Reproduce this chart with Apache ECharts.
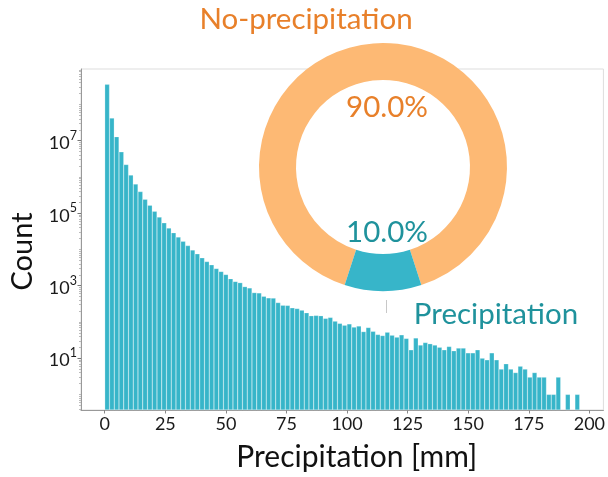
<!DOCTYPE html>
<html><head><meta charset="utf-8">
<script src="https://cdn.jsdelivr.net/npm/echarts@6/dist/echarts.min.js"></script>
<style>html,body{margin:0;padding:0;background:#fff}#c{width:608px;height:477px}</style>
</head><body><div id="c"></div>
<script>
// ---- data ----
const binStart = 0;
const binWidth = 1.96;
const counts = [
  357000000, 41900000, 12900000, 4900000, 2200000, 1120000, 635000, 394000, 242000, 166000,
  113000, 77700, 54200, 38800, 28900, 22000, 16800, 12700, 9680, 7530,
  5850, 4630, 3760, 2980, 2470, 2040, 1560, 1310, 1210, 940,
  865, 643, 630, 509, 460, 455, 342, 288, 285, 245,
  234, 211, 179, 148, 151, 148, 125, 133, 105, 91,
  81, 88, 72, 77, 54, 70, 55, 45, 42, 52,
  43, 38, 44, 35, 17, 36, 23, 27, 25, 23,
  20, 17, 21, 16, 19, 19, 14, 14, 17, 10,
  9, 14, 9, 5, 7, 5, 4, 6, 5, 3,
  4, 3, 3, 1, 1, 3, null, 1, null, 1
];
const xTicks = [0, 25, 50, 75, 100, 125, 150, 175, 200];
const yTicks = [1e1, 1e3, 1e5, 1e7];
const pieNames = ['No-precipitation', 'Precipitation'];
const pieValues = [90, 10];

// ---- styles ----
const FONT = 'Lato';
const BAR = '#37b5c9';
const RING = '#fdb974';
const ORANGE_TXT = '#e8802a';
const TEAL_TXT = '#1f929c';
const yMin = 0.372, yMax = 9.5e8;
const xMin = -9.8, xMax = 205.8;

const minorTicks = [];
for (let n = -1; n <= 9; n++) {
  for (let m = 1; m <= 9; m++) {
    const v = m * Math.pow(10, n);
    if (m === 1 && Math.abs(n % 2) === 1) continue;
    if (v >= yMin && v <= yMax) minorTicks.push(v);
  }
}

const barData = counts.map((c, k) => [binStart + (k + 0.5) * binWidth, c == null ? '-' : c]);
const total = pieValues.reduce((a, b) => a + b, 0);
const pct = pieValues.map(v => (v / total * 100).toFixed(1) + '%');

const chart = echarts.init(document.getElementById('c'), null, {renderer: 'canvas'});
chart.setOption({
  animation: false,
  backgroundColor: '#fff',
  textStyle: {fontFamily: FONT},
  grid: {left: 80, right: 3, top: 69, bottom: 66, show: true, borderColor: '#dddddd', borderWidth: 1, containLabel: false},
  xAxis: {
    type: 'value', min: xMin, max: xMax,
    axisLine: {show: true, onZero: false, lineStyle: {color: '#999', width: 1}},
    axisTick: {show: true, length: 3.5, lineStyle: {color: '#888'}, customValues: xTicks},
    axisLabel: {customValues: xTicks, fontSize: 18, color: '#1a1a1a', margin: 5, fontFamily: FONT},
    splitLine: {show: false},
    name: 'Precipitation [mm]', nameLocation: 'middle', nameGap: 32,
    nameTextStyle: {fontSize: 30, color: '#111', fontFamily: FONT, padding: [0, 0, 0, 29]}
  },
  yAxis: [{
    type: 'log', logBase: 10, min: yMin, max: yMax, startValue: yMin,
    axisLine: {show: true, onZero: false, lineStyle: {color: '#999', width: 1}},
    axisTick: {show: true, length: 3.5, lineStyle: {color: '#777'}, customValues: yTicks},
    axisLabel: {
      customValues: yTicks, margin: 4, fontFamily: FONT,
      formatter: v => '{b|10}{s|' + Math.round(Math.log10(v)) + '}',
      rich: {
        b: {fontSize: 18, color: '#1a1a1a', fontFamily: FONT, verticalAlign: 'bottom'},
        s: {fontSize: 12.5, color: '#1a1a1a', fontFamily: FONT, verticalAlign: 'bottom', padding: [0, 0, 10, 0]}
      }
    },
    splitLine: {show: false},
    name: 'Count', nameLocation: 'middle', nameGap: 44,
    nameTextStyle: {fontSize: 29, color: '#111', fontFamily: FONT, padding: [0, 24, 0, 0]}
  }, {
    type: 'log', logBase: 10, min: yMin, max: yMax, position: 'left',
    axisLine: {show: false, onZero: false},
    axisTick: {show: true, length: 2, lineStyle: {color: '#bbb'}, customValues: minorTicks},
    axisLabel: {show: false},
    splitLine: {show: false}
  }],
  series: [{
    type: 'bar', xAxisIndex: 0, yAxisIndex: 0,
    data: barData, barWidth: '100%',
    itemStyle: {color: BAR, borderColor: 'rgba(255,255,255,0.6)', borderWidth: 0.4},
    silent: true, z: 2
  }, {
    type: 'pie', center: [383, 167], radius: [87, 124], startAngle: 252, clockwise: true,
    data: pieNames.map((n, i) => ({name: n, value: pieValues[i]})),
    color: [RING, BAR], label: {show: false}, labelLine: {show: false},
    itemStyle: {borderWidth: 0}, silent: true, z: 5
  }],
  graphic: [
    {type: 'text', x: 306, y: 19, z: 10, style: {text: pieNames[0], fontSize: 29.5, fontFamily: FONT, fill: ORANGE_TXT, align: 'center', verticalAlign: 'middle'}},
    {type: 'text', x: 387, y: 107, z: 10, style: {text: pct[0], fontSize: 29.5, fontFamily: FONT, fill: ORANGE_TXT, align: 'center', verticalAlign: 'middle'}},
    {type: 'text', x: 387, y: 232, z: 10, style: {text: pct[1], fontSize: 29.5, fontFamily: FONT, fill: TEAL_TXT, align: 'center', verticalAlign: 'middle'}},
    {type: 'text', x: 496, y: 314, z: 10, style: {text: pieNames[1], fontSize: 29.5, fontFamily: FONT, fill: TEAL_TXT, align: 'center', verticalAlign: 'middle'}},
    {type: 'line', z: 10, shape: {x1: 386.5, y1: 300, x2: 386.5, y2: 313}, style: {stroke: '#c8c8c8', lineWidth: 1}}
  ]
});
</script>
</body></html>
